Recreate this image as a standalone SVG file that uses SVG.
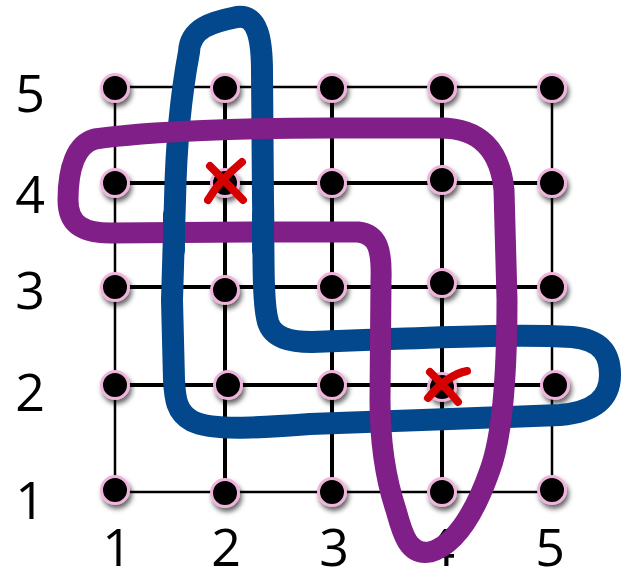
<svg xmlns="http://www.w3.org/2000/svg" width="625" height="583" viewBox="0 0 625 583">
<defs>
<style>
.grid{stroke:#000;fill:none}
.outer{stroke-width:2.5}
.inner{stroke-width:4}
.dot{fill:#000;stroke:#f0b4dc;stroke-width:3;filter:url(#sh)}
.lbl{font-family:"Open Sans","Liberation Sans",sans-serif;font-size:52px;fill:#000;text-anchor:middle}
.blue{fill:none;stroke:#03478c;stroke-width:22;stroke-linecap:round;stroke-linejoin:round}
.purple{fill:none;stroke:#801f88;stroke-width:21;stroke-linecap:round;stroke-linejoin:round}
.x{fill:none;stroke:#d50000;stroke-width:8;stroke-linecap:round}
</style>
<filter id="sh" x="-50%" y="-50%" width="200%" height="200%">
<feDropShadow dx="2" dy="4" stdDeviation="2.5" flood-color="#000" flood-opacity="0.6"/>
</filter>
</defs>
<g id="grid">
<rect class="grid outer" x="115" y="87" width="437" height="405"/>
<line class="grid inner" x1="225" y1="87" x2="225" y2="492"/>
<line class="grid inner" x1="332" y1="87" x2="332" y2="492"/>
<line class="grid inner" x1="442" y1="87" x2="442" y2="492"/>
<line class="grid inner" x1="115" y1="183" x2="552" y2="183"/>
<line class="grid inner" x1="115" y1="287" x2="552" y2="287"/>
<line class="grid inner" x1="115" y1="385" x2="552" y2="385"/>
</g>
<g id="nodes">
<circle class="dot" cx="115" cy="88" r="13.5"/><circle class="dot" cx="225" cy="88" r="13.5"/><circle class="dot" cx="332" cy="88" r="13.5"/><circle class="dot" cx="442" cy="88" r="13.5"/><circle class="dot" cx="552" cy="88" r="13.5"/>
<circle class="dot" cx="115" cy="183" r="13.5"/><circle class="dot" cx="225" cy="183" r="13.5"/><circle class="dot" cx="332" cy="183" r="13.5"/><circle class="dot" cx="442" cy="180" r="13.5"/><circle class="dot" cx="552" cy="183" r="13.5"/>
<circle class="dot" cx="115" cy="287" r="13.5"/><circle class="dot" cx="225" cy="290" r="13.5"/><circle class="dot" cx="332" cy="287" r="13.5"/><circle class="dot" cx="442" cy="283" r="13.5"/><circle class="dot" cx="552" cy="287" r="13.5"/>
<circle class="dot" cx="115" cy="385" r="13.5"/><circle class="dot" cx="228" cy="385" r="13.5"/><circle class="dot" cx="332" cy="385" r="13.5"/><circle class="dot" cx="442" cy="387" r="13.5"/><circle class="dot" cx="555" cy="385" r="13.5"/>
<circle class="dot" cx="115" cy="490" r="13.5"/><circle class="dot" cx="225" cy="493" r="13.5"/><circle class="dot" cx="332" cy="492" r="13.5"/><circle class="dot" cx="442" cy="492" r="13.5"/><circle class="dot" cx="552" cy="490" r="13.5"/>
</g>
<g id="labels">
<text class="lbl" x="30" y="112">5</text>
<text class="lbl" x="30" y="213">4</text>
<text class="lbl" x="30" y="309">3</text>
<text class="lbl" x="30" y="411">2</text>
<text class="lbl" x="30" y="519">1</text>
<text class="lbl" x="117" y="566">1</text>
<text class="lbl" x="226" y="566">2</text>
<text class="lbl" x="334" y="566">3</text>
<text class="lbl" x="440" y="566">4</text>
<text class="lbl" x="550" y="566">5</text>
</g>
<g id="connectors">
<path id="blue-loop" class="blue" d="M 189,52 C 190,28 212,22 237,17 C 258,14 262,40 262,72 L 263,200 C 264,250 262,300 268,322 C 273,338 290,342 312,342 L 390,339 C 460,337 520,334 572,337 C 605,340 610,358 610,375 C 610,398 595,412 560,415 L 450,419 L 310,424 C 255,428 212,431 192,421 C 176,412 175,398 174,380 L 172,300 L 175,200 C 176,150 180,100 189,52 Z"/>
<path id="purple-loop" class="purple" d="M 95,139 C 150,131 250,128 330,128 L 440,128 C 480,128 500,150 504,190 L 507,300 C 507,380 501,440 490,470 C 476,510 456,545 430,552 C 408,556 402,532 396,510 C 386,480 380,440 380,400 L 381,280 C 382,250 378,234 358,232 L 250,232 L 110,233 C 85,233 68,226 68,200 C 68,168 76,144 95,139 Z"/>
<path id="blue-over-1" class="blue" d="M 174,215 L 174,250"/>
<path id="blue-over-2" class="blue" d="M 263,215 L 263,250"/>
<path id="x1" class="x" d="M 210,166 C 222,178 233,190 243,200 M 242,162 C 230,172 216,186 208,200"/>
<path id="x2" class="x" d="M 430,372 C 440,382 450,392 458,402 M 467,371 C 452,374 438,386 428,398"/>
</g>
</svg>
